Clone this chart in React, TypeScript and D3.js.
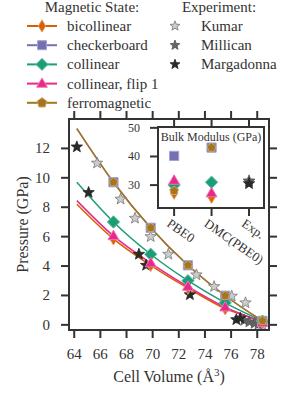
import * as d3 from "d3";

// Magnetic states (DMC points + fitted curves)
const stateNames = ["bicollinear", "checkerboard", "collinear", "collinear, flip 1", "ferromagnetic"];
const stateColors = ["#d95f02", "#7570b3", "#1b9e77", "#e7298a", "#a6761d"];
const stateMarkers = ["d", "s", "D", "^", "p"];

const dmcVolumes = [67.0, 69.85, 72.7, 75.55, 78.4];
const bicollinearDmc = [5.85, 4.05, 2.5, 1.1, 0.15];
const checkerboardDmc = [9.7, 6.6, 4.05, 1.98, 0.27];
const collinearDmc = [7.0, 4.8, 3.0, 1.5, 0.25];
const flip1Dmc = [6.05, 4.2, 2.6, 1.2, 0.15];
const ferroDmc = [9.7, 6.6, 4.05, 1.98, 0.27];

const fitVolumes = [64.2, 67.0, 69.85, 72.7, 75.55, 78.4, 78.7];
const bicollinearFit = [8.2, 5.85, 4.05, 2.5, 1.1, 0.15, 0.0];
const checkerboardFit = [13.35, 9.7, 6.6, 4.05, 1.98, 0.27, 0.1];
const collinearFit = [9.7, 7.0, 4.8, 3.0, 1.5, 0.25, 0.12];
const flip1Fit = [8.45, 6.05, 4.2, 2.6, 1.2, 0.15, 0.02];
const ferroFit = [13.35, 9.7, 6.6, 4.05, 1.98, 0.27, 0.1];

// Experiments
const expNames = ["Kumar", "Millican", "Margadonna"];
const expFills = ["#cccccc", "#666666", "#2a2a2a"];
const expEdges = ["#777777", "#555555", "#222222"];
const kumarV = [65.75, 67.55, 68.65, 69.85, 71.2, 73.35, 74.7, 76.05, 77.1, 78.4];
const kumarP = [11.0, 8.55, 7.25, 6.0, 4.8, 3.4, 2.6, 1.95, 1.5, 0.0];
const millicanV = [77.0, 77.4, 77.8, 78.1];
const millicanP = [0.3, 0.2, 0.1, 0.05];
const margadonnaV = [64.2, 65.1, 68.95, 69.5, 72.85, 76.4, 76.7];
const margadonnaP = [12.1, 9.0, 4.8, 4.05, 2.05, 0.35, 0.45];

// Inset: bulk modulus
const insetMethods = ["PBE0", "DMC(PBE0)", "Exp."];
const bulkBicollinear = [27.2, 25.8];
const bulkCheckerboard = [40.2, 43.1];
const bulkCollinear = [30.0, 31.0];
const bulkFlip1 = [31.6, 27.2];
const bulkFerro = [28.0, 43.1];
const bulkExp = [31.5, 31.3, 30.5];

const xTicks = [64, 66, 68, 70, 72, 74, 76, 78];
const yTicks = [0, 2, 4, 6, 8, 10, 12];
const insetYTicks = [30, 40, 50];

const FONT = "'Liberation Serif', 'Times New Roman', serif";
const INK = "#333333";

function markerPath(kind: string, s: number): string {
  if (kind === "s") return `M${-s},${-s}H${s}V${s}H${-s}Z`;
  if (kind === "D") { const r = s * 1.35; return `M0,${-r}L${r},0L0,${r}L${-r},0Z`; }
  if (kind === "d") { const r = s * 1.35; const w = r * 0.6; return `M0,${-r}L${w},0L0,${r}L${-w},0Z`; }
  if (kind === "^") { const r = s * 1.25; return `M0,${-r}L${r * 0.95},${r * 0.65}L${-r * 0.95},${r * 0.65}Z`; }
  if (kind === "p") {
    const r = s * 1.15;
    return d3.range(5).map((i) => {
      const a = -Math.PI / 2 + (i * 2 * Math.PI) / 5;
      return `${i === 0 ? "M" : "L"}${r * Math.cos(a)},${r * Math.sin(a)}`;
    }).join("") + "Z";
  }
  // star
  const r = s * 1.3, ri = r * 0.42;
  return d3.range(10).map((i) => {
    const a = -Math.PI / 2 + (i * Math.PI) / 5;
    const rr = i % 2 === 0 ? r : ri;
    return `${i === 0 ? "M" : "L"}${rr * Math.cos(a)},${rr * Math.sin(a)}`;
  }).join("") + "Z";
}

const lighten = (c: string) => d3.interpolateRgb(c, "#ffffff")(0.35);

export default function App() {
  const x = d3.scaleLinear().domain([63.6, 78.9]).range([69, 269]);
  const y = d3.scaleLinear().domain([-0.35, 14]).range([330, 119]);
  const ix = d3.scaleLinear().domain([-0.43, 2.4]).range([158, 264]);
  const iy = d3.scaleLinear().domain([22, 50.3]).range([208, 127]);

  const fits = [bicollinearFit, checkerboardFit, collinearFit, flip1Fit, ferroFit];
  const dmcs = [bicollinearDmc, checkerboardDmc, collinearDmc, flip1Dmc, ferroDmc];
  const bulks = [bulkBicollinear, bulkCheckerboard, bulkCollinear, bulkFlip1, bulkFerro];
  const exps = [[kumarV, kumarP], [millicanV, millicanP], [margadonnaV, margadonnaP]];

  const line = d3.line<number>()
    .x((_, i) => x(fitVolumes[i]))
    .y((d) => y(d))
    .curve(d3.curveMonotoneX);

  const [x0, x1] = x.range();
  const [y0, y1] = y.range();

  return (
    <svg width={300} height={400} style={{ position: "absolute", left: 0, top: 0, background: "#fff" }} fontFamily={FONT}>
      {/* legend: magnetic state */}
      <text x={92} y={12} textAnchor="middle" fontSize={15} fill={INK}>Magnetic State:</text>
      {stateNames.map((n, i) => {
        const cy = 26 + i * 19.2;
        return (
          <g key={n}>
            <line x1={27} x2={57} y1={cy} y2={cy} stroke={stateColors[i]} strokeWidth={2} />
            <path d={markerPath(stateMarkers[i], 4.5)} transform={`translate(42,${cy})`} fill={stateColors[i]} stroke={lighten(stateColors[i])} strokeWidth={1} />
            <text x={67} y={cy + 5} fontSize={15} fill={INK}>{n}</text>
          </g>
        );
      })}
      <text x={219} y={12} textAnchor="middle" fontSize={15} fill={INK}>Experiment:</text>
      {expNames.map((n, i) => {
        const cy = 26 + i * 19.2;
        return (
          <g key={n}>
            <path d={markerPath("*", 4)} transform={`translate(175,${cy})`} fill={expFills[i]} stroke={expEdges[i]} strokeWidth={0.8} />
            <text x={201} y={cy + 5} fontSize={15} fill={INK}>{n}</text>
          </g>
        );
      })}

      {/* main plot data */}
      {fits.map((f, i) => (
        <path key={"f" + i} d={line(f) || ""} fill="none" stroke={stateColors[i]} strokeWidth={1.5} />
      ))}
      {exps.map(([vs, ps], k) => vs.map((v, j) => (
        <path key={`e${k}-${j}`} d={markerPath("*", 4.6)} transform={`translate(${x(v)},${y(ps[j])})`} fill={expFills[k]} stroke={expEdges[k]} strokeWidth={0.8} />
      )))}
      {dmcs.map((ps, i) => ps.map((p, j) => (
        <path key={`m${i}-${j}`} d={markerPath(stateMarkers[i], i === 4 ? 4 : 4.6)} transform={`translate(${x(dmcVolumes[j])},${y(p)})`} fill={stateColors[i]} stroke={lighten(stateColors[i])} strokeWidth={1} />
      )))}

      {/* main axes */}
      <rect x={x0} y={y1} width={x1 - x0} height={y0 - y1} fill="none" stroke={INK} strokeWidth={2} />
      {xTicks.map((t) => (
        <g key={"xt" + t}>
          <line x1={x(t)} x2={x(t)} y1={y0} y2={y0 + 8} stroke={INK} strokeWidth={2} />
          <line x1={x(t)} x2={x(t)} y1={y1} y2={y1 - 8} stroke={INK} strokeWidth={2} />
          <text x={x(t)} y={y0 + 29} textAnchor="middle" fontSize={15} fill={INK}>{t}</text>
        </g>
      ))}
      {yTicks.map((t) => (
        <g key={"yt" + t}>
          <line x1={x0} x2={x0 - 8} y1={y(t)} y2={y(t)} stroke={INK} strokeWidth={2} />
          <line x1={x1} x2={x1 + 8} y1={y(t)} y2={y(t)} stroke={INK} strokeWidth={2} />
          <text x={50} y={y(t) + 5} textAnchor="end" fontSize={15} fill={INK}>{t}</text>
        </g>
      ))}
      <text x={169} y={382} textAnchor="middle" fontSize={16} fill={INK}>
        Cell Volume (Å<tspan dy={-6} fontSize={11}>3</tspan><tspan dy={6}>)</tspan>
      </text>
      <text transform={`translate(28,${(y0 + y1) / 2}) rotate(-90)`} textAnchor="middle" fontSize={16} fill={INK}>Pressure (GPa)</text>

      {/* inset */}
      <rect x={158} y={127} width={106} height={81} fill="#fff" stroke={INK} strokeWidth={2} />
      <text x={211} y={141} textAnchor="middle" fontSize={12} fill={INK}>Bulk Modulus (GPa)</text>
      {bulks.map((b, i) => b.map((v, j) => (
        <path key={`b${i}-${j}`} d={markerPath(stateMarkers[i], i === 4 ? 4 : 4.6)} transform={`translate(${ix(j)},${iy(v)})`} fill={stateColors[i]} stroke={lighten(stateColors[i])} strokeWidth={1} />
      )))}
      {bulkExp.map((v, k) => (
        <path key={"be" + k} d={markerPath("*", 4.6)} transform={`translate(${ix(2)},${iy(v)})`} fill={expFills[k]} stroke={expEdges[k]} strokeWidth={0.8} />
      ))}
      {insetMethods.map((m, j) => (
        <g key={m}>
          <line x1={ix(j)} x2={ix(j)} y1={208} y2={216} stroke={INK} strokeWidth={2} />
          <line x1={ix(j)} x2={ix(j)} y1={127} y2={119} stroke={INK} strokeWidth={2} />
          <text transform={`translate(${ix(j) - 3},${218}) rotate(35)`} fontSize={13} dy="0.7em" fill={INK}>{m}</text>
        </g>
      ))}
      {insetYTicks.map((t) => (
        <g key={"iy" + t}>
          <line x1={158} x2={150} y1={iy(t)} y2={iy(t)} stroke={INK} strokeWidth={2} />
          <text x={140} y={iy(t) + 4} textAnchor="end" fontSize={12} fill={INK}>{t}</text>
        </g>
      ))}
    </svg>
  );
}
